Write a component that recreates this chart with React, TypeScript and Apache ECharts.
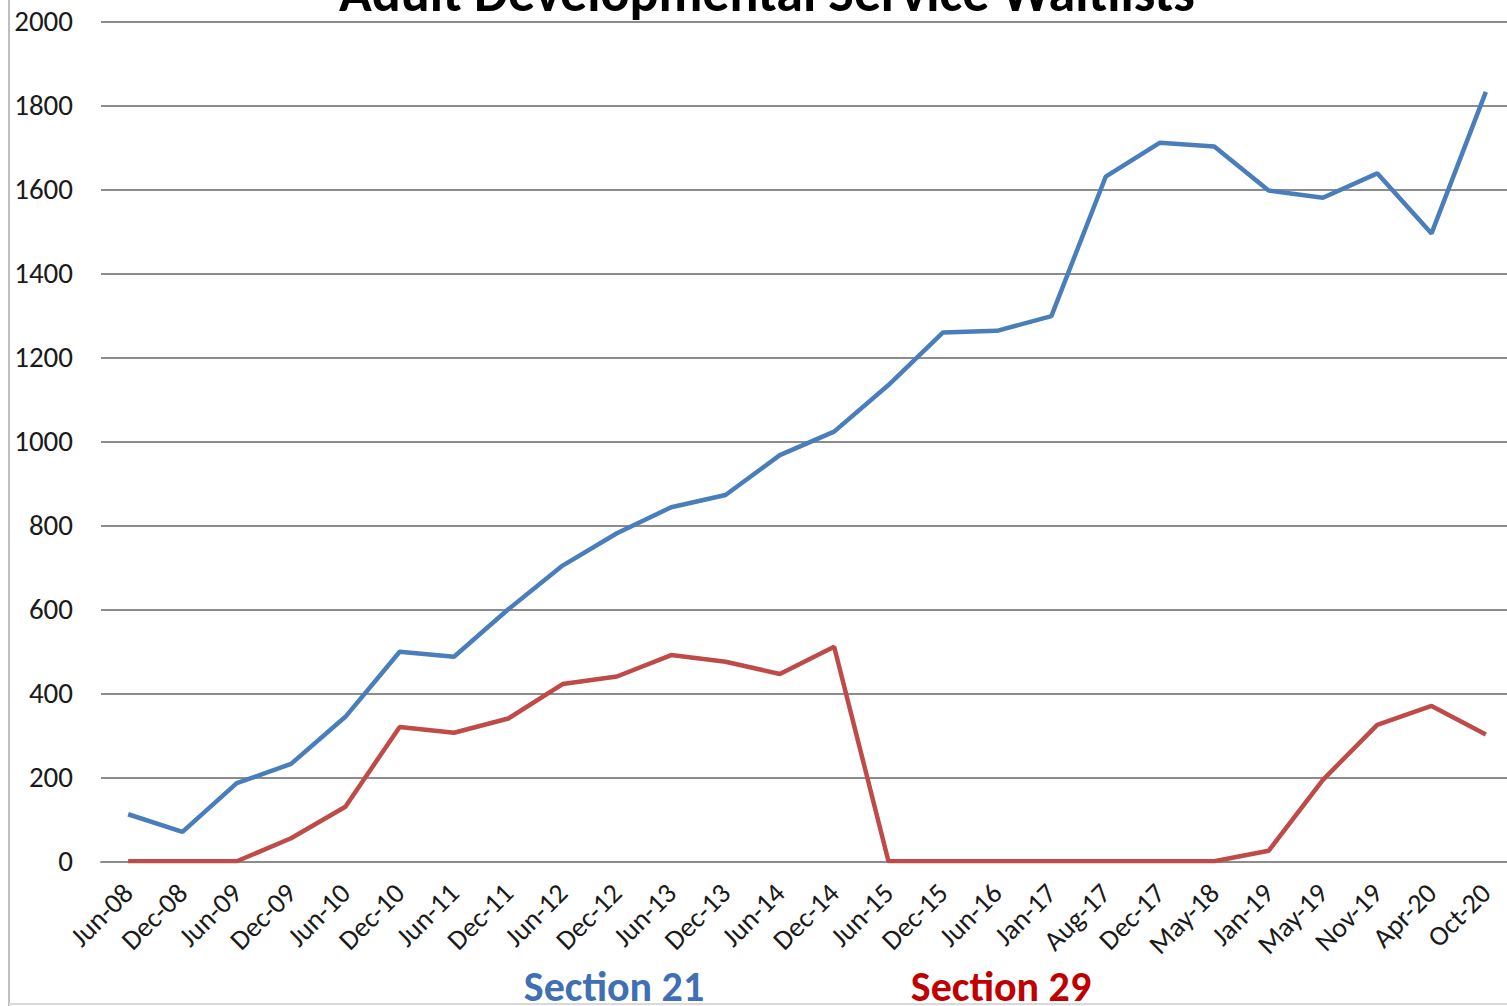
import React, { useEffect, useRef } from "react";
import * as echarts from "echarts";

const categories = [
  "Jun-08", "Dec-08", "Jun-09", "Dec-09", "Jun-10", "Dec-10", "Jun-11", "Dec-11",
  "Jun-12", "Dec-12", "Jun-13", "Dec-13", "Jun-14", "Dec-14", "Jun-15", "Dec-15",
  "Jun-16", "Jan-17", "Aug-17", "Dec-17", "May-18", "Jan-19", "May-19", "Nov-19",
  "Apr-20", "Oct-20",
];

const section21 = [
  112, 70, 186, 232, 344, 499, 487, 600, 704, 781, 843, 872, 967, 1023, 1134, 1259,
  1263, 1298, 1630, 1711, 1702, 1597, 1580, 1638, 1495, 1832,
];

const section29 = [
  0, 0, 0, 55, 130, 320, 306, 340, 422, 440, 491, 475, 446, 511, 0, 0,
  0, 0, 0, 0, 0, 25, 194, 325, 370, 302,
];

const titleText = "Adult Developmental Service Waitlists";
const label21 = "Section 21";
const label29 = "Section 29";

const FONT = "Carlito, Lato, 'Open Sans', sans-serif";

export default function App() {
  const ref = useRef<HTMLDivElement>(null);

  useEffect(() => {
    document.body.style.margin = "0";
    document.body.style.overflow = "hidden";
    const chart = echarts.init(ref.current!, null, { renderer: "svg" });
    chart.setOption({
      animation: false,
      backgroundColor: "#ffffff",
      grid: { left: 101, right: 7, top: 21.3, bottom: 144.7 },
      xAxis: {
        type: "category",
        data: categories,
        boundaryGap: true,
        axisLine: { show: true, lineStyle: { color: "#8c8c8c", width: 2 } },
        axisTick: { show: false },
        axisLabel: {
          interval: 0,
          rotate: 45,
          margin: 27,
          fontSize: 28,
          fontFamily: FONT,
          color: "#1a1a1a",
        },
      },
      yAxis: {
        type: "value",
        min: 0,
        max: 2000,
        interval: 200,
        axisLine: { show: false },
        axisTick: { show: false },
        axisLabel: {
          margin: 28,
          fontSize: 29,
          fontFamily: FONT,
          color: "#1a1a1a",
          formatter: (v: number) => String(v),
        },
        splitLine: { show: true, lineStyle: { color: "#8c8c8c", width: 2 } },
      },
      series: [
        {
          name: label21,
          type: "line",
          data: section21,
          symbol: "none",
          lineStyle: { color: "#4a7ebb", width: 4.5 },
          itemStyle: { color: "#4a7ebb" },
          z: 3,
        },
        {
          name: label29,
          type: "line",
          data: section29,
          symbol: "none",
          lineStyle: { color: "#be4b48", width: 4.5 },
          itemStyle: { color: "#be4b48" },
          z: 4,
        },
      ],
      graphic: [
        {
          type: "line",
          shape: { x1: 9, y1: 0, x2: 9, y2: 1006 },
          style: { stroke: "#bfbfbf", lineWidth: 2 },
        },
        {
          type: "line",
          shape: { x1: 9, y1: 1004, x2: 1520, y2: 1004 },
          style: { stroke: "#d9d9d9", lineWidth: 2 },
        },
        {
          type: "text",
          x: 767,
          y: -7,
          style: {
            text: titleText,
            fontSize: 54,
            fontWeight: "bold",
            fontFamily: FONT,
            fill: "#000000",
            align: "center",
            verticalAlign: "middle",
          },
        },
        {
          type: "text",
          x: 614,
          y: 986,
          style: {
            text: label21,
            fontSize: 42,
            fontWeight: "bold",
            fontFamily: FONT,
            fill: "#3f6fb5",
            align: "center",
            verticalAlign: "middle",
          },
        },
        {
          type: "text",
          x: 1001,
          y: 986,
          style: {
            text: label29,
            fontSize: 42,
            fontWeight: "bold",
            fontFamily: FONT,
            fill: "#c00000",
            align: "center",
            verticalAlign: "middle",
          },
        },
      ],
    });
    return () => chart.dispose();
  }, []);

  return (
    <div
      ref={ref}
      style={{ position: "fixed", left: 0, top: 0, width: 1520, height: 1006 }}
    />
  );
}
